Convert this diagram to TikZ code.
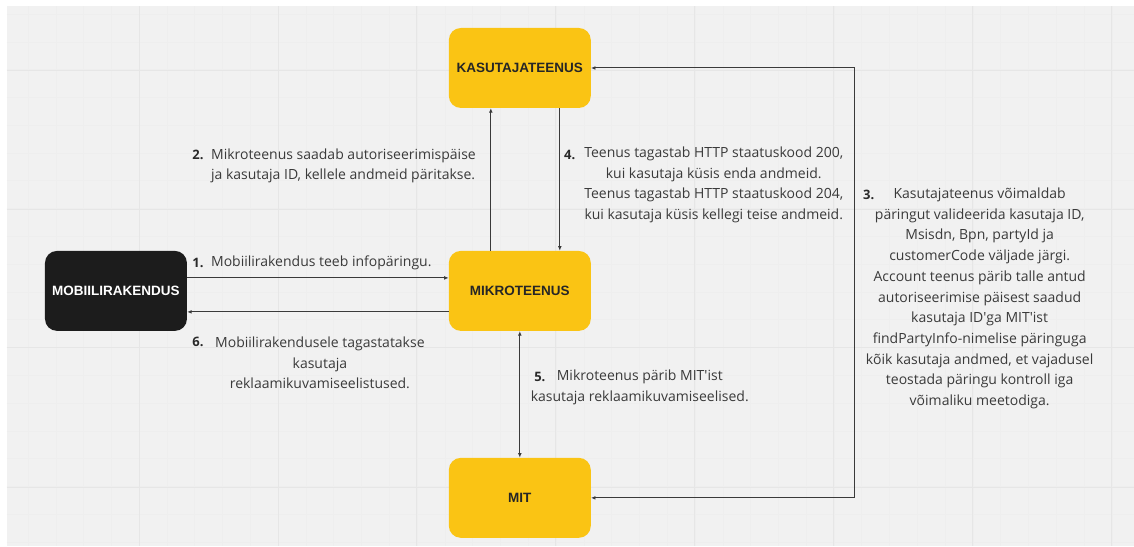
\documentclass[tikz,border=0pt]{standalone}
\usepackage{fontspec}
\setmainfont{Open Sans}
\newfontfamily\boxfont{Liberation Sans}
\usetikzlibrary{arrows.meta}
\definecolor{service}{HTML}{FAC414}
\definecolor{client}{HTML}{1C1C1C}
\definecolor{canvas}{HTML}{F1F1F1}
\definecolor{gridmajor}{HTML}{E6E6E6}
\definecolor{gridminor}{HTML}{EEEEEE}
\definecolor{ink}{HTML}{3A3A3A}

\begin{document}
\begin{tikzpicture}[>={Latex[length=4.5pt,width=3.8pt]},x=1pt,y=-1pt,
  box/.style={rounded corners=12pt,minimum width=142pt,minimum height=80pt,text=black!85,font=\boxfont\bfseries\fontsize{13.5}{16}\selectfont},
  note/.style={text=ink,inner sep=0pt,font=\fontsize{14}{20.7}\selectfont},
  num/.style={text=ink!70!black,inner sep=0pt,font=\bfseries\fontsize{13}{15}\selectfont},
  flow/.style={draw=ink,line width=1pt}]
\fill[white] (0,0) rectangle (1134,547);
\fill[canvas] (7,6) rectangle (1134,546);
\foreach \gx in {28,55.8,...,1134} \draw[gridminor,line width=0.5pt] (\gx,6)--(\gx,546);
\foreach \gy in {14,41.8,...,546} \draw[gridminor,line width=0.5pt] (7,\gy)--(1134,\gy);
\foreach \gx in {139,278,...,1134} \draw[gridmajor,line width=0.8pt] (\gx,6)--(\gx,546);
\foreach \gy in {70,209,348,488} \draw[gridmajor,line width=0.8pt] (7,\gy)--(1134,\gy);

\node[box,fill=service] (kasutaja) at (520,68) {KASUTAJATEENUS};
\node[box,fill=service] (mikro) at (520,291) {MIKROTEENUS};
\node[box,fill=client,text=white] (mobiil) at (116,291) {MOBIILIRAKENDUS};
\node[box,fill=service] (mit) at (520,498) {MIT};

\node[num] (n1) at (198,263) {1.};
\node[note,anchor=west] (t1) at (211,263) {Mobiilirakendus teeb infopäringu.};
\node[num] (n2) at (198,155) {2.};
\node[note,anchor=west,align=left] (t2) at (211,166) {Mikroteenus saadab autoriseerimispäise\\ja kasutaja ID, kellele andmeid päritakse.};
\node[num] (n3) at (869,195) {3.};
\node[note,align=center] (t3) at (980,298.5) {Kasutajateenus võimaldab\\päringut valideerida kasutaja ID,\\Msisdn, Bpn, partyId ja\\customerCode väljade järgi.\\Account teenus pärib talle antud\\autoriseerimise päisest saadud\\kasutaja ID\textquotesingle ga MIT\textquotesingle ist\\findPartyInfo-nimelise päringuga\\kõik kasutaja andmed, et vajadusel\\teostada päringu kontroll iga\\võimaliku meetodiga.};
\node[num] (n4) at (570,155) {4.};
\node[note,align=center] (t4) at (714,185) {Teenus tagastab HTTP staatuskood 200,\\kui kasutaja küsis enda andmeid.\\Teenus tagastab HTTP staatuskood 204,\\kui kasutaja küsis kellegi teise andmeid.};
\node[num] (n5) at (540,377) {5.};
\node[note,align=center] (t5) at (640,387.5) {Mikroteenus pärib MIT\textquotesingle ist\\kasutaja reklaamikuvamiseelised.};
\node[num] (n6) at (198,342) {6.};
\node[note,align=center] (t6) at (320,363) {Mobiilirakendusele tagastatakse\\kasutaja\\reklaamikuvamiseelistused.};

\draw[flow,->] ([yshift=13pt]mobiil.east) -- ([yshift=13pt]mikro.west);
\draw[flow,->] ([xshift=-29pt]mikro.north) -- ([xshift=-29pt]kasutaja.south);
\draw[flow,->] ([xshift=40pt]kasutaja.south) -- ([xshift=40pt]mikro.north);
\draw[flow,<->] (mikro.south) -- (mit.north);
\draw[flow,->] ([yshift=-21pt]mikro.west) -- ([yshift=-21pt]mobiil.east);
\coordinate (nurk1) at (855,68);
\coordinate (nurk2) at (855,498);
\draw[flow,<->] (kasutaja.east) -- (nurk1) -- (nurk2) -- (mit.east);
\end{tikzpicture}
\end{document}
